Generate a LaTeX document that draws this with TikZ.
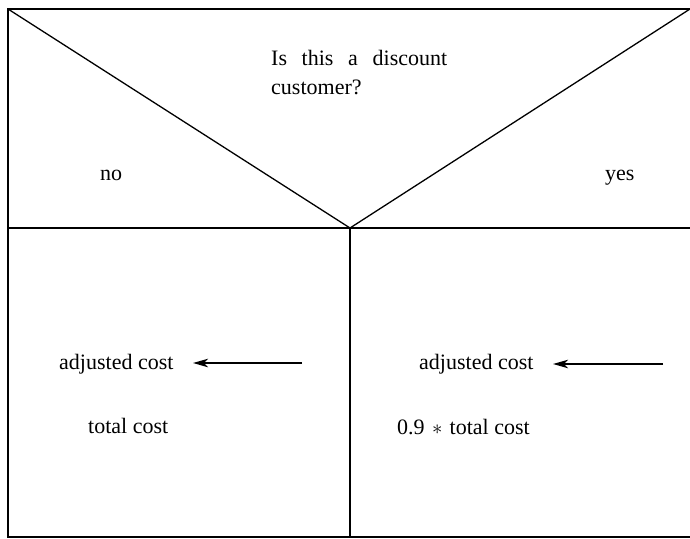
\documentclass[tikz,border=0pt]{standalone}
\usepackage{fontspec}
\setmainfont{Liberation Serif}
\usetikzlibrary{arrows.meta}
\begin{document}
\begin{tikzpicture}[x=1pt,y=-1pt,
  rule/.style={line width=1.3pt,black},
  label/.style={anchor=base west,inner sep=0pt,font=\fontsize{22}{29}\selectfont},
  assign/.style={line width=1.4pt,-{Stealth[length=15pt,width=8.5pt,inset=4pt]}}]
  \useasboundingbox (0,0) rectangle (690,538);
  % frame corners and division points
  \coordinate (tl) at (8,9);
  \coordinate (tr) at (690,9);
  \coordinate (bl) at (8,537);
  \coordinate (br) at (690,537);
  \coordinate (ml) at (8,228);
  \coordinate (mr) at (690,228);
  \coordinate (apex) at (350,228);
  \coordinate (bm) at (350,537);
  % outer frame and condition triangle
  \draw[rule] (tr) -- (tl) -- (bl) -- (br);
  \draw[rule] (ml) -- (mr);
  \draw[rule] (tl) -- (apex) -- (tr);
  \draw[rule] (apex) -- (bm);
  % condition
  \node[label] (q1) at (271,65) {Is\ \ \,this\ \ \,a\ \ \,discount};
  \node[label] (q2) at (271,94) {customer?};
  \node[label] (no) at (100,180) {no};
  \node[label] (yes) at (605,180) {yes};
  % left branch
  \node[label] (ladj) at (59,369) {adjusted cost};
  \node[label] (ltot) at (88,433) {total cost};
  \coordinate (lsrc) at (302,363);
  \coordinate (ldst) at (193,363);
  \draw[assign] (lsrc) -- (ldst);
  % right branch
  \node[label] (radj) at (419,369) {adjusted cost};
  \node[label] (rtot) at (397,434) {0.9\,\,$\ast$\,\,total cost};
  \coordinate (rsrc) at (663,364);
  \coordinate (rdst) at (553,364);
  \draw[assign] (rsrc) -- (rdst);
\end{tikzpicture}
\end{document}
